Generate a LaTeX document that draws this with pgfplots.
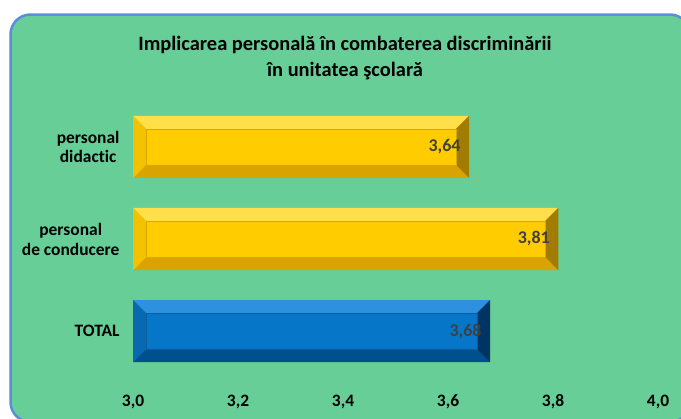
\documentclass[border=0pt]{standalone}
\usepackage{pgfplots}
\pgfplotsset{compat=1.18}
\usepackage{fontspec}
\setmainfont{Carlito}[Ligatures={NoCommon,NoRare,NoDiscretionary}]
\definecolor{bggreen}{HTML}{66CE96}
\definecolor{bord}{HTML}{5B8ED8}
\definecolor{lbl}{HTML}{404040}
\definecolor{ybase}{HTML}{FFCC00}
\definecolor{ytop}{HTML}{FFE04A}
\definecolor{ybot}{HTML}{D9A300}
\definecolor{yright}{HTML}{A27C00}
\definecolor{yleft}{HTML}{F2C200}
\definecolor{yin}{HTML}{D8AA00}
\definecolor{bbase}{HTML}{0677C8}
\definecolor{btop}{HTML}{2E90E0}
\definecolor{bbot}{HTML}{00508F}
\definecolor{bright}{HTML}{003462}
\definecolor{bleft}{HTML}{0868B0}
\definecolor{bin}{HTML}{0A5C9C}
% value, position, base, top, bottom, right, left, inner
\newcommand\bevelbar[8]{%
 \pgfmathsetmacro\vv{#1}\pgfmathsetmacro\vi{#1-0.02476}%
 \pgfmathsetmacro\yt{#2+0.337}\pgfmathsetmacro\yb{#2-0.337}%
 \pgfmathsetmacro\yti{#2+0.337-0.1412}\pgfmathsetmacro\ybi{#2-0.337+0.1412}%
 \edef\tmp{%
 \noexpand\addplot[xbar, bar width=0.674, bar shift=0pt, fill=#3, draw=none] coordinates {(\vv,#2)};
 \noexpand\addplot[fill=#4, draw=none, mark=none] coordinates {(3,\yt) (\vv,\yt) (\vi,\yti) (3.02476,\yti)};
 \noexpand\addplot[fill=#5, draw=none, mark=none] coordinates {(3,\yb) (\vv,\yb) (\vi,\ybi) (3.02476,\ybi)};
 \noexpand\addplot[fill=#6, draw=none, mark=none] coordinates {(\vv,\yt) (\vv,\yb) (\vi,\ybi) (\vi,\yti)};
 \noexpand\addplot[fill=#7, draw=none, mark=none] coordinates {(3,\yt) (3,\yb) (3.02476,\ybi) (3.02476,\yti)};
 \noexpand\addplot[draw=#8, line width=0.8bp, mark=none] coordinates {(3.02476,\yti) (\vi,\yti) (\vi,\ybi) (3.02476,\ybi) (3.02476,\yti)};
 }\tmp}
\begin{document}
\begin{tikzpicture}[x=1bp,y=1bp]
\path[use as bounding box] (0,0) rectangle (681,-418);
\clip (0,0) rectangle (681,-418);
\fill[white] (0,0) rectangle (681,-418);
\draw[fill=bggreen, draw=bord, line width=2.5bp, rounded corners=20bp] (10.5,-14.5) rectangle (690,-422);
\node[font=\bfseries\fontsize{20.5}{26}\selectfont, align=center] at (345,-58) {Implicarea personală în combaterea discriminării\\în unitatea şcolară};
\begin{axis}[
  at={(133bp,-390bp)}, anchor=south west,
  scale only axis, width=525bp, height=302bp,
  xmin=3, xmax=4, ymin=-0.64, ymax=2.64,
  axis line style={draw=none}, major tick length=0pt,
  xtick={3,3.2,3.4,3.6,3.8,4},
  xticklabels={{3,0},{3,2},{3,4},{3,6},{3,8},{4,0}},
  ytick={0,1,2},
  yticklabels={TOTAL,{personal\\de conducere},{personal\\didactic}},
  ticklabel style={font=\bfseries\fontsize{17.5}{20}\selectfont, text=black},
  yticklabel style={align=center, xshift=-10bp},
  xticklabel style={anchor=base, yshift=-16bp},
  clip=false,
]
\bevelbar{3.64}{2}{ybase}{ytop}{ybot}{yright}{yleft}{yin}
\bevelbar{3.81}{1}{ybase}{ytop}{ybot}{yright}{yleft}{yin}
\bevelbar{3.68}{0}{bbase}{btop}{bbot}{bright}{bleft}{bin}
\addplot[draw=none, mark=none, point meta=x,
  nodes near coords={\pgfmathprintnumber[fixed,fixed zerofill,precision=2,use comma,assume math mode=true]{\pgfplotspointmeta}},
  nodes near coords style={anchor=east, xshift=-5bp, font=\bfseries\fontsize{18}{20}\selectfont, text=lbl}]
  coordinates {(3.64,2) (3.81,1) (3.68,0)};
\end{axis}
\end{tikzpicture}
\end{document}
